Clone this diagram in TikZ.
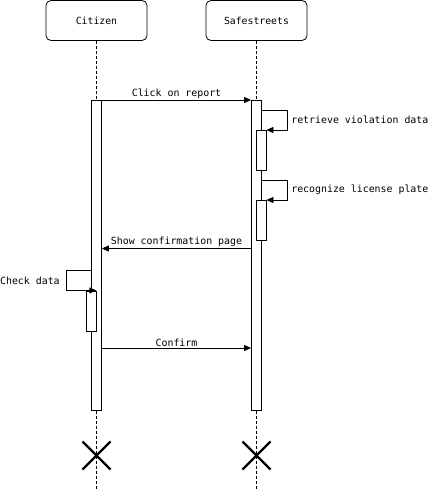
\documentclass[tikz,border=0pt]{standalone}
\usepackage{fontspec}
\setmonofont{DejaVu Sans Mono}
\usetikzlibrary{arrows.meta,positioning,calc}
\tikzstyle{actor}=[draw, rounded corners=5pt, minimum width=101pt, minimum height=40pt, line width=0.8pt, font=\ttfamily\fontsize{9.8}{11}\selectfont]
\tikzstyle{bar}=[draw, fill=white, minimum width=10pt, inner sep=0pt, anchor=north, line width=0.8pt]
\tikzstyle{msg}=[line width=0.8pt, -{Triangle[length=7pt,width=6pt]}]
\tikzstyle{lab}=[font=\ttfamily\fontsize{9.9}{11}\selectfont, inner sep=1pt]
\tikzstyle{life}=[dashed, dash pattern=on 3pt off 2pt, line width=0.7pt]
\tikzstyle{kill}=[line width=2.4pt]

\begin{document}
\begin{tikzpicture}[x=1pt, y=-1pt]
      \useasboundingbox (0,0) rectangle (428,491);
      %
      \node[actor] (citizen) at (96.5,20.5) {Citizen};
      \node[actor] (safe) at (256.5,20.5) {Safestreets};
      \draw[life] (citizen.south) -- (citizen.south |- 0,491);
      \draw[life] (safe.south) -- (safe.south |- 0,491);
      %
      \node[bar, minimum height=310pt] (cbar) at (96.5,100) {};
      \node[bar, minimum height=310pt] (sbar) at (256.5,100) {};
      \node[bar, minimum height=40pt] (snest1) at (261,130) {};
      \node[bar, minimum height=40pt] (snest2) at (261,200) {};
      \node[bar, minimum height=40pt] (cnest) at (91,290.5) {};
      %
      \draw[msg] (cbar.north east) -- node[lab, above] {Click on report} (sbar.north west);
      % self calls
      \coordinate (r1) at ($(sbar.north east)+(0,10)$);
      \coordinate (r2) at ($(sbar.north east)+(0,80)$);
      \draw[msg] (r1) -- ++(25,0) node[lab, right, xshift=3pt, yshift=-10pt] {retrieve violation data} |- (snest1.north east);
      \draw[msg] (r2) -- ++(25,0) node[lab, right, xshift=3pt, yshift=-10pt] {recognize license plate} |- (snest2.north east);
      %
      \draw[msg] (sbar.west |- 0,248.5) coordinate (sc) -- node[lab, above] {Show confirmation page} (cbar.east |- sc);
      %
      \coordinate (c1) at (cbar.west |- 0,270.5);
      \draw[msg] (c1) -- ++(-25,0) node[lab, left, xshift=-5pt, yshift=-10pt] {Check data} |- (cnest.north east);
      %
      \draw[msg] (cbar.east |- 0,348) coordinate (cf) -- node[lab, above] {Confirm} (sbar.west |- cf);
      %
      \foreach \n in {citizen, safe} {
        \coordinate (x) at (\n.south |- 0,455.5);
        \draw[kill] ($(x)+(-14,-14)$) -- ($(x)+(14,14)$);
        \draw[kill] ($(x)+(-14,14)$) -- ($(x)+(14,-14)$);
      }
    \end{tikzpicture}
\end{document}
